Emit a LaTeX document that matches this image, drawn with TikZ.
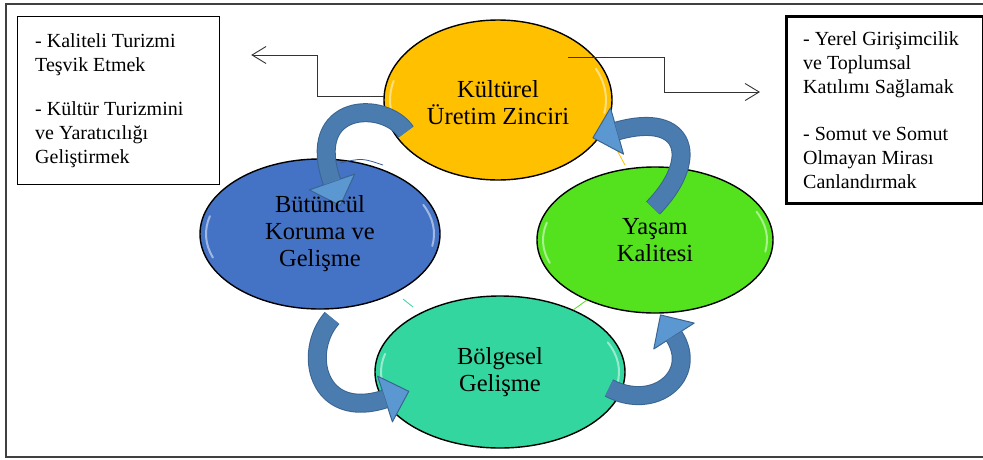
\documentclass[tikz,border=0pt]{standalone}
\usepackage{fontspec}
\setmainfont{Liberation Serif}
\usetikzlibrary{shapes.geometric,calc,arrows.meta}

% colours of the four stages and of the cycle arrows
\definecolor{goldfill}{RGB}{255,192,0}
\definecolor{bluefill}{RGB}{68,114,196}
\definecolor{greenfill}{RGB}{84,226,30}
\definecolor{tealfill}{RGB}{52,214,160}
\definecolor{arrowfill}{RGB}{74,124,176}
\definecolor{headfill}{RGB}{91,152,210}
\definecolor{arrowedge}{RGB}{58,100,145}

\tikzset{
  stage/.style={ellipse, draw=black, line width=1.4pt, inner sep=0pt},
  stagetext/.style={align=center, inner sep=0pt, font=\fontsize{24.5}{27}\selectfont},
  goaltext/.style={align=left, inner sep=0pt, anchor=north west, font=\fontsize{20}{24}\selectfont},
  link/.style={draw=black!80, line width=0.9pt, -{Straight Barb[length=14pt,width=17pt]}},
}

% thick curved arrow: tail, first control (rel. to tail), second control (rel. to end), end
\newcommand{\cyclearrow}[4]{%
  \coordinate (hb) at ($(#4)+(#3)$);
  \draw[arrowedge, line width=19pt] (#1) .. controls +(#2) and +(#3) .. (#4);
  \filldraw[fill=headfill, draw=arrowedge, line width=1pt, line join=round]
    ($(#4)!24pt!90:(hb)$) -- ($(#4)!-25pt!(hb)$) -- ($(#4)!24pt!-90:(hb)$) -- cycle;
  \draw[arrowfill, line width=17pt] (#1) .. controls +(#2) and +(#3) .. (#4);
}

\begin{document}
\begin{tikzpicture}[x=1pt,y=-1pt]

    % Fix the page to the size of the figure
    \useasboundingbox (0,0) rectangle (983,459);

    % Outer frame (its right side is cut off)
    \draw[black!75, line width=1.5pt] (983,4) -- (6,4) -- (6,457) -- (983,457);

    % The four stages of the cycle, without their texts
    \node[stage, fill=goldfill, minimum width=228pt, minimum height=160pt] (kultur) at (498,100) {};
    \node[stage, fill=bluefill, minimum width=240pt, minimum height=150pt] (butun) at (320,234) {};
    \node[stage, fill=greenfill, minimum width=236pt, minimum height=146pt] (yasam) at (655,240) {};
    \node[stage, fill=tealfill, minimum width=250pt, minimum height=152pt] (bolge) at (500,372) {};

    % White gloss near the left and right rims
    \foreach \n/\rx/\ry in {kultur/114/80, butun/120/75, yasam/118/73, bolge/125/76} {
        \draw[white, opacity=.5, line width=2pt, line cap=round]
            ($(\n.center)+(160:{\rx-6} and {\ry-6})$)
            arc[start angle=160, end angle=195, x radius=\rx-6, y radius=\ry-6];
        \draw[white, opacity=.5, line width=2pt, line cap=round]
            ($(\n.center)+(-25:{\rx-6} and {\ry-6})$)
            arc[start angle=-25, end angle=10, x radius=\rx-6, y radius=\ry-6];
    }

    % Short pieces of the hidden links between the stages
    \draw[bluefill!80!black, line width=0.8pt] (340,163) .. controls (362,158) .. (383,165);
    \draw[tealfill, line width=0.8pt] (403,299) -- (413,307);
    \draw[goldfill, line width=0.8pt] (613,143) -- (625,165);
    \draw[greenfill, line width=0.8pt] (573,310) -- (587,300);

    % End points of the cycle arrows
    \coordinate (a1) at ($(kultur.center)+(-92,32)$);
    \coordinate (b1) at ($(butun.center)+(12,-52)$);
    \coordinate (a2) at ($(butun.center)+(12,84)$);
    \coordinate (b2) at ($(bolge.center)+(-115,27)$);
    \coordinate (a3) at ($(bolge.center)+(109,16)$);
    \coordinate (b3) at ($(yasam.center)+(19,96)$);
    \coordinate (a4) at ($(yasam.center)+(-2,-32)$);
    \coordinate (b4) at ($(kultur.center)+(119,31)$);

    % The cycle arrows
    \cyclearrow{a1}{-21,-32}{-28,-80}{b1}
    \cyclearrow{a2}{-30,34}{-68,22}{b2}
    \cyclearrow{a3}{46,24}{25,39}{b3}
    \cyclearrow{a4}{47,-48}{71,-20}{b4}

    % Texts of the stages, on top of the arrows
    \node[stagetext] (kulturtext) at ($(kultur.center)+(0,3)$) {Kültürel\\Üretim Zinciri};
    \node[stagetext] (butuntext) at (butun.center) {Bütüncül\\Koruma ve\\Gelişme};
    \node[stagetext] (yasamtext) at (yasam.center) {Yaşam\\Kalitesi};
    \node[stagetext] (bolgetext) at (bolge.center) {Bölgesel\\Gelişme};

    % Goal boxes
    \node[draw=black, line width=1.2pt, anchor=north west, minimum width=202pt, minimum height=168pt] (leftbox) at (17,16) {};
    \node[goaltext] (lefttext) at ($(leftbox.north west)+(18,17)$)
        {- Kaliteli Turizmi\\Teşvik Etmek\\[20pt]- Kültür Turizmini\\ve Yaratıcılığı\\Geliştirmek};
    \node[draw=black, line width=2.5pt, anchor=north west, minimum width=197pt, minimum height=187pt] (rightbox) at (785,15) {};
    \node[goaltext] (righttext) at ($(rightbox.north west)+(18,16)$)
        {- Yerel Girişimcilik\\ve Toplumsal\\Katılımı Sağlamak\\[23pt]- Somut ve Somut\\Olmayan Mirası\\Canlandırmak};

    % Links from the first stage to the goals
    \coordinate (lstart) at ($(kultur.west)+(1,-4)$);
    \coordinate (ltip) at ($(leftbox.north east)+(31,39)$);
    \coordinate (rstart) at ($(kultur.center)+(70,-43)$);
    \coordinate (rtip) at ($(rightbox.north west)+(-25,77)$);
    \draw[link] (lstart) -- ++(-67,0) |- (ltip);
    \draw[link] (rstart) -- ++(96,0) |- (rtip);

\end{tikzpicture}
\end{document}
